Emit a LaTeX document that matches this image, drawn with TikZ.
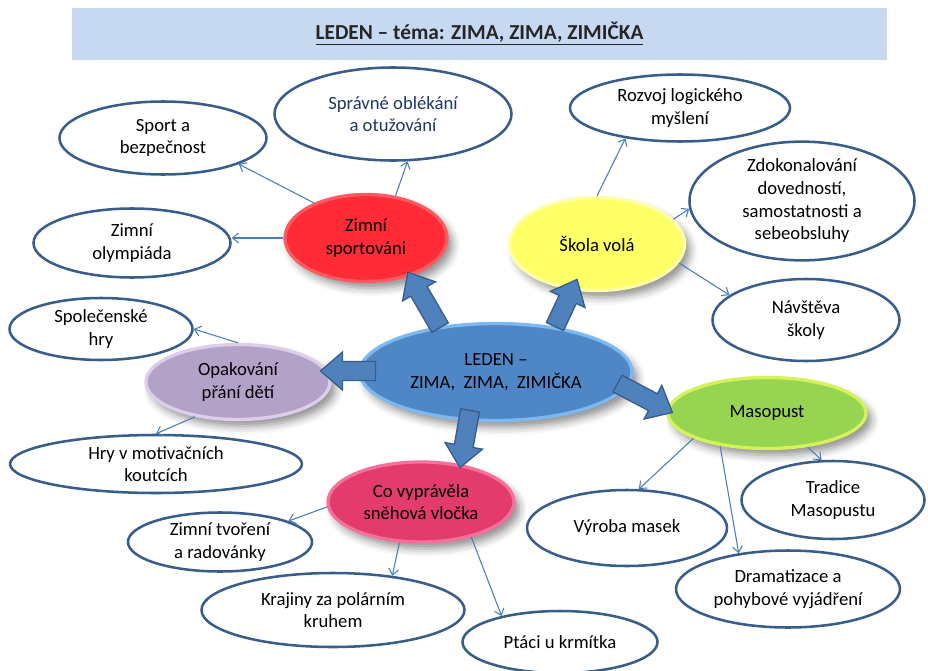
\documentclass[tikz,border=0pt]{standalone}
\usepackage{fontspec}
\setmainfont{Carlito}
\usetikzlibrary{arrows.meta,shapes.geometric,shadows.blur}
\definecolor{titleBlue}{HTML}{C6D9F1}
\definecolor{titleText}{HTML}{262626}
\definecolor{ellBorder}{HTML}{385D8A}
\definecolor{connBlue}{HTML}{4A7EBB}
\definecolor{navyText}{HTML}{1F3864}
\definecolor{arrFill}{HTML}{4F81BD}
\definecolor{arrDraw}{HTML}{385D8A}
\definecolor{redF}{HTML}{FF2B36}
\definecolor{redE}{HTML}{FF5A62}
\definecolor{yelF}{HTML}{FFFF66}
\definecolor{yelE}{HTML}{FFFFA8}
\definecolor{purF}{HTML}{B3A2C7}
\definecolor{purE}{HTML}{DCCDEB}
\definecolor{grnF}{HTML}{96D452}
\definecolor{grnE}{HTML}{D4F25A}
\definecolor{pinkF}{HTML}{E33B6B}
\definecolor{pinkE}{HTML}{F5709A}
\definecolor{cenF}{HTML}{4F86C6}
\definecolor{cenE}{HTML}{7DB8EE}
\newcommand\blkarrow[4]{%
  \begin{scope}[shift={(#1,#2)},rotate=#3]
    \filldraw[blockarrow] (-#4/2,-9.5) -- (#4/2-22,-9.5) -- (#4/2-22,-19) -- (#4/2,0)
      -- (#4/2-22,19) -- (#4/2-22,9.5) -- (-#4/2,9.5) -- cycle;
  \end{scope}}
\begin{document}
\begin{tikzpicture}[x=0.75pt,y=-0.75pt,
  font=\fontsize{14}{17}\selectfont,
  sz/.style 2 args={minimum width=#1*0.75pt, minimum height=#2*0.75pt},
  outl/.style={ellipse, draw=ellBorder, line width=1.9pt, fill=white, align=center, inner sep=0pt},
  colnode/.style={ellipse, line width=2.5pt, align=center, inner sep=0pt,
    blur shadow={shadow xshift=4pt, shadow yshift=-5pt, shadow blur radius=6pt, shadow opacity=45}},
  conn/.style={draw=connBlue, line width=0.8pt, -{Straight Barb[length=4.5pt,width=7.5pt]}},
  blockarrow/.style={fill=arrFill, draw=arrDraw, line width=1pt, line join=miter}]
\useasboundingbox (0,0) rectangle (928,671);

% title
\node[fill=titleBlue, sz={815}{52}, inner sep=0pt, text=titleText] (title) at (479.5,34)
  {\fontsize{16}{19}\selectfont\bfseries\underline{LEDEN – téma: ZIMA, ZIMA, ZIMIČKA}};

% outlined nodes
\node[outl, sz={207}{73}] (sb) at (163,138) {Sport a\\bezpečnost};
\node[outl, sz={197}{69}] (zo) at (132,243) {Zimní\\olympiáda};
\node[outl, sz={237}{93}, text=navyText] (so) at (393,114) {Správné oblékání\\a otužování};
\node[outl, sz={220}{67}] (rl) at (680,108) {Rozvoj logického\\myšlení};
\node[outl, sz={225}{108}] (zd) at (802,201) {Zdokonalování\\dovedností,\\samostatnosti a\\sebeobsluhy};
\node[outl, sz={187}{82}] (nv) at (806,320) {Návštěva\\školy};
\node[outl, sz={183}{62}] (sh) at (101,329) {Společenské\\hry};
\node[outl, sz={292}{58}] (hm) at (156,464) {Hry v motivačních\\koutcích};
\node[outl, sz={184}{59}] (zt) at (220,542) {Zimní tvoření\\a radovánky};
\node[outl, sz={263}{74}] (kp) at (333,610) {Krajiny za polárním\\kruhem};
\node[outl, sz={195}{62}] (pk) at (560,642) {Ptáci u krmítka};
\node[outl, sz={200}{76}] (vm) at (627,528) {Výroba masek};
\node[outl, sz={183}{78}] (tm) at (833,500) {Tradice\\Masopustu};
\node[outl, sz={224}{77}] (dp) at (788,589) {Dramatizace a\\pohybové vyjádření};

% coloured nodes
\node[colnode, fill=redF, draw=redE, sz={162}{87}] (zs) at (366,238) {Zimní\\sportováni};
\node[colnode, fill=yelF, draw=yelE, sz={175}{93}] (sv) at (597,244) {Škola volá};
\node[colnode, fill=purF, draw=purE, sz={184}{75}] (op) at (238,382) {Opakování\\přání dětí};
\node[colnode, fill=grnF, draw=grnE, sz={198}{71}] (ma) at (767,413) {Masopust};
\node[colnode, fill=pinkF, draw=pinkE, sz={186}{80}] (cv) at (421,502) {Co vyprávěla\\sněhová vločka};
\node[colnode, fill=cenF, draw=cenE, sz={272}{97}] (ct) at (496,372) {LEDEN –\\ZIMA,\ \ ZIMA,\ \ ZIMIČKA};

% block arrows
\blkarrow{424}{300}{120.2}{64}
\blkarrow{566}{303}{64.9}{52}
\blkarrow{348}{371}{180}{55}
\blkarrow{645}{398}{-27.8}{62}
\blkarrow{465}{439}{-100}{58}

% connectors
\draw[conn] (zs.146.6) -- (sb.-19.8);
\draw[conn] (zs.west) -- (zs.west -| zo.east);
\draw[conn] (zs.55.8) -- (so.-73.7);
\draw[conn] (sv.north) -- (rl.209.3);
\draw[conn] (sv.18.7) -- (zd.184.7);
\draw[conn] (sv.-13.9) -- (nv.162);
\draw[conn] (op.north) -- (sh.east);
\draw[conn] (op.219.6) -- (hm.north);
\draw[conn] (cv.183.5) -- (zt.17.1);
\draw[conn] (cv.242.7) -- (kp.30.7);
\draw[conn] (cv.-35.2) -- (pk.156.5);
\draw[conn] (ma.199.7) -- (vm.73.9);
\draw[conn] (ma.215.9) -- (dp.144.9);
\draw[conn] (ma.-40) -- (tm.106);
\end{tikzpicture}
\end{document}
